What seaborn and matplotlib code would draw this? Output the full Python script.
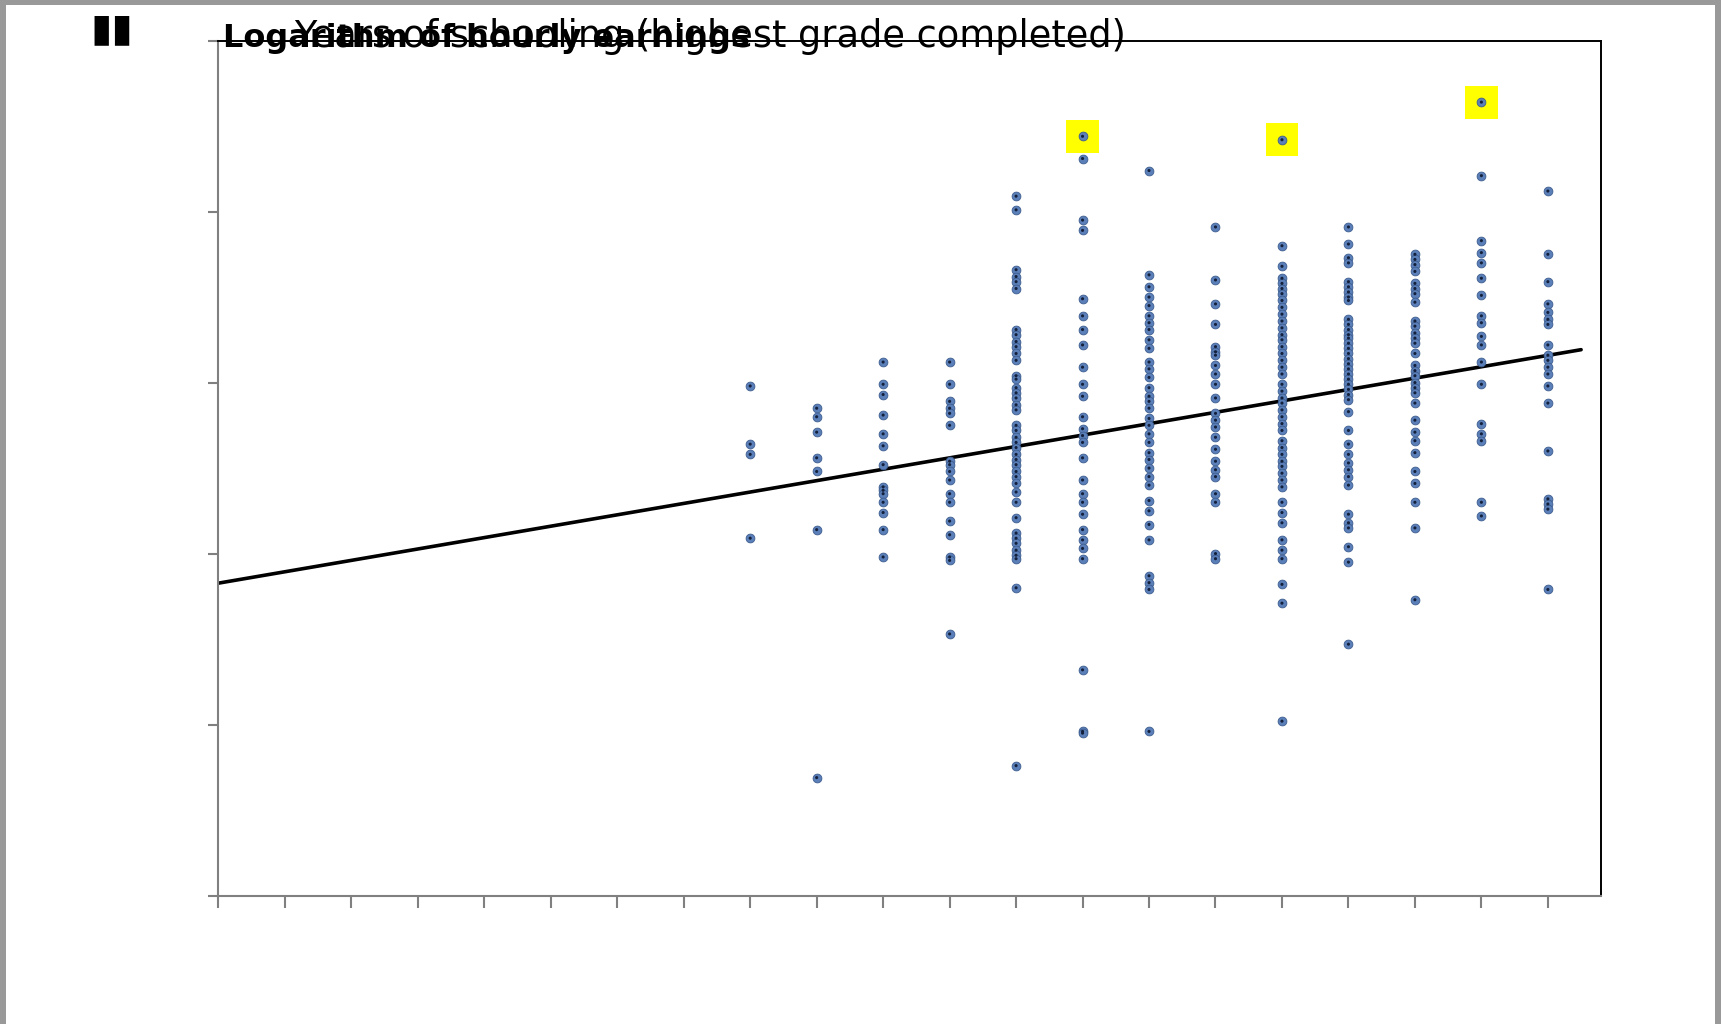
import numpy as np
import pandas as pd
import matplotlib
matplotlib.use("Agg")
import matplotlib.pyplot as plt
from matplotlib.patches import Rectangle
import seaborn as sns

# Log hourly earnings observed at each level of schooling (years)
lgearn_s8 = [2.98, 2.64, 2.58, 2.09]
lgearn_s9 = [2.85, 2.80, 2.71, 2.56, 2.48, 2.14, 0.69]
lgearn_s10 = [3.12, 2.99, 2.93, 2.81, 2.70, 2.63, 2.52, 2.39, 2.37, 2.35, 2.30,
              2.24, 2.14, 1.98]
lgearn_s11 = [3.12, 2.99, 2.89, 2.85, 2.82, 2.75, 2.54, 2.52, 2.48, 2.43, 2.35,
              2.30, 2.19, 2.11, 1.98, 1.96, 1.53]
lgearn_s12 = [4.09, 4.01, 3.66, 3.62, 3.59, 3.55, 3.31, 3.28, 3.24, 3.21, 3.17,
              3.13, 3.04, 3.02, 2.97, 2.94, 2.91, 2.87, 2.84, 2.75, 2.72, 2.68,
              2.65, 2.62, 2.58, 2.55, 2.52, 2.48, 2.45, 2.41, 2.36, 2.30, 2.21,
              2.12, 2.09, 2.06, 2.02, 1.99, 1.97, 1.80, 0.76]
lgearn_s13 = [4.44, 4.31, 3.95, 3.89, 3.49, 3.39, 3.31, 3.22, 3.09, 2.99, 2.92,
              2.80, 2.73, 2.69, 2.65, 2.56, 2.43, 2.35, 2.30, 2.23, 2.14, 2.08,
              2.03, 1.97, 1.32, 0.96, 0.95]
lgearn_s14 = [4.24, 3.63, 3.56, 3.50, 3.45, 3.39, 3.35, 3.31, 3.25, 3.20, 3.12,
              3.08, 3.03, 2.97, 2.92, 2.89, 2.85, 2.79, 2.75, 2.70, 2.65, 2.59,
              2.55, 2.50, 2.45, 2.40, 2.31, 2.25, 2.17, 2.08, 1.87, 1.83, 1.79,
              0.96]
lgearn_s15 = [3.91, 3.60, 3.46, 3.34, 3.21, 3.18, 3.16, 3.10, 3.05, 2.99, 2.91,
              2.82, 2.78, 2.74, 2.68, 2.61, 2.54, 2.49, 2.45, 2.35, 2.30, 2.00,
              1.97]
lgearn_s16 = [4.42, 3.80, 3.68, 3.61, 3.58, 3.55, 3.52, 3.48, 3.44, 3.40, 3.36,
              3.32, 3.28, 3.25, 3.21, 3.17, 3.13, 3.09, 3.05, 2.99, 2.95, 2.91,
              2.88, 2.84, 2.80, 2.76, 2.72, 2.66, 2.62, 2.58, 2.54, 2.51, 2.47,
              2.43, 2.39, 2.30, 2.24, 2.18, 2.08, 2.02, 1.97, 1.82, 1.71, 1.02]
lgearn_s17 = [3.91, 3.81, 3.73, 3.70, 3.59, 3.56, 3.53, 3.50, 3.48, 3.37, 3.34,
              3.31, 3.28, 3.26, 3.23, 3.20, 3.17, 3.14, 3.11, 3.08, 3.05, 3.02,
              2.99, 2.96, 2.93, 2.90, 2.83, 2.72, 2.64, 2.58, 2.53, 2.49, 2.45,
              2.40, 2.23, 2.18, 2.15, 2.04, 1.95, 1.47]
lgearn_s18 = [3.75, 3.72, 3.69, 3.65, 3.58, 3.55, 3.52, 3.47, 3.36, 3.33, 3.29,
              3.26, 3.23, 3.17, 3.10, 3.07, 3.04, 3.00, 2.97, 2.94, 2.88, 2.78,
              2.71, 2.66, 2.59, 2.48, 2.41, 2.30, 2.15, 1.73]
lgearn_s19 = [4.64, 4.21, 3.83, 3.76, 3.70, 3.61, 3.51, 3.39, 3.35, 3.27, 3.22,
              3.12, 2.99, 2.76, 2.70, 2.66, 2.30, 2.22]
lgearn_s20 = [4.12, 3.75, 3.59, 3.46, 3.41, 3.37, 3.34, 3.22, 3.16, 3.13, 3.09,
              3.05, 2.98, 2.88, 2.60, 2.32, 2.29, 2.26, 1.79]

schooling_years = list(range(8, 21))
lgearn_by_year = [lgearn_s8, lgearn_s9, lgearn_s10, lgearn_s11, lgearn_s12,
                  lgearn_s13, lgearn_s14, lgearn_s15, lgearn_s16, lgearn_s17,
                  lgearn_s18, lgearn_s19, lgearn_s20]

# Fitted line: LGEARN = intercept + slope * S
fit_intercept = 1.827
fit_slope = 0.0666
fit_range = [0.0, 20.5]

# Observations singled out with a highlight box (top earner in these years)
highlight_years = [13, 16, 19]

# Axis titles
y_title = "Logarithm of hourly earnings"
x_title = "Years of schooling (highest grade completed)"

df = pd.DataFrame({
    "S": np.concatenate([[s] * len(v) for s, v in zip(schooling_years, lgearn_by_year)]),
    "LGEARN": np.concatenate(lgearn_by_year),
})
hl = pd.DataFrame({
    "S": highlight_years,
    "LGEARN": [max(lgearn_by_year[schooling_years.index(s)]) for s in highlight_years],
})
fit = pd.DataFrame({"S": fit_range})
fit["LGEARN"] = fit_intercept + fit_slope * fit["S"]

sns.set_style("white")
plt.rcParams["font.family"] = ["DejaVu Sans"]

fig = plt.figure(figsize=(17.21, 10.24), dpi=100)
fig.patch.set_facecolor("white")
ax = fig.add_axes([0.1269, 0.1254, 0.8034, 0.835])

# highlight squares behind selected points
sns.scatterplot(data=hl, x="S", y="LGEARN", ax=ax, marker="s", s=560,
                color="#ffff00", edgecolor="none", zorder=1, legend=False)
# blue discs with a dark centre
sns.scatterplot(data=df, x="S", y="LGEARN", ax=ax, marker="o", s=40,
                color="#5b7fb8", edgecolor="#3d5d8f", linewidth=0.6,
                zorder=3, legend=False)
sns.scatterplot(data=df, x="S", y="LGEARN", ax=ax, marker="o", s=5,
                color="#14213d", edgecolor="none", zorder=4, legend=False)
sns.lineplot(data=fit, x="S", y="LGEARN", ax=ax, color="black",
             linewidth=2.6, zorder=2)

ax.set_xlim(0, 20.8)
ax.set_ylim(0, 5)
ax.set_xticks(np.arange(0, 21, 1))
ax.set_yticks(np.arange(0, 6, 1))
ax.set_xlabel("")
ax.set_ylabel("")
ax.tick_params(axis="both", which="both", direction="out", color="#808080",
               width=1.5, labelbottom=False, labelleft=False,
               bottom=True, left=True, top=False, right=False)
ax.tick_params(axis="x", length=8.5)
ax.tick_params(axis="y", length=7)
for side in ("left", "bottom"):
    ax.spines[side].set_color("#808080")
    ax.spines[side].set_linewidth(1.5)
for side in ("top", "right"):
    ax.spines[side].set_color("black")
    ax.spines[side].set_linewidth(1.4)
ax.grid(False)

# titles placed along the top edge of the plot area
fig.text(223 / 1721, 1 - 47 / 1024, y_title, fontsize=23, fontweight="bold",
         ha="left", va="baseline", color="black")
fig.text(294 / 1721, 1 - 47 / 1024, x_title, fontsize=26.5,
         ha="left", va="baseline", color="black")
fig.text(90 / 1721, 1 - 40 / 1024, "\u25ae\u25ae", fontsize=28,
         fontweight="bold", ha="left", va="baseline", color="black")

# grey frame around the picture
gray = "#999999"
fig.patches.extend([
    Rectangle((0, 1 - 5 / 1024), 1, 5 / 1024, transform=fig.transFigure,
              facecolor=gray, edgecolor="none"),
    Rectangle((0, 0), 6 / 1721, 1, transform=fig.transFigure,
              facecolor=gray, edgecolor="none"),
    Rectangle((1 - 6 / 1721, 0), 6 / 1721, 1, transform=fig.transFigure,
              facecolor=gray, edgecolor="none"),
])

fig.savefig("out.png", dpi=100)
